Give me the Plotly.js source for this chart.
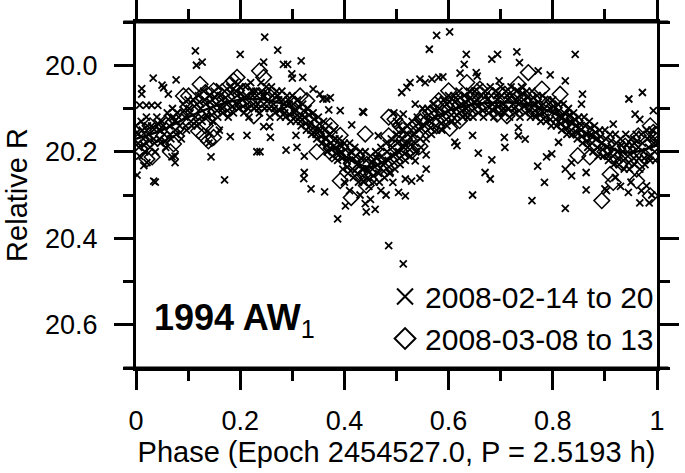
<!DOCTYPE html>
<html><head><meta charset="utf-8">
<script src="https://cdn.plot.ly/plotly-3.0.1.min.js"></script>
<style>html,body{margin:0;padding:0;background:#fff}#chart{width:685px;height:473px}</style>
</head><body><div id="chart"></div>
<script>
// Series 1: 2008-02-14 to 20 (x markers), [phase, relative R]
const crossBand = [
[0.000,20.14],[0.004,20.18],[0.007,20.21],[0.010,20.13],[0.014,20.17],[0.017,20.20],
[0.020,20.12],[0.024,20.16],[0.027,20.19],[0.030,20.14],[0.034,20.17],[0.037,20.20],
[0.040,20.12],[0.044,20.15],[0.047,20.18],[0.050,20.13],[0.054,20.16],[0.057,20.19],
[0.060,20.11],[0.064,20.14],[0.067,20.17],[0.070,20.10],[0.074,20.13],[0.077,20.16],
[0.080,20.11],[0.084,20.14],[0.087,20.17],[0.090,20.09],[0.094,20.12],[0.097,20.15],
[0.100,20.08],[0.104,20.11],[0.107,20.14],[0.110,20.08],[0.114,20.12],[0.117,20.14],
[0.120,20.07],[0.124,20.10],[0.127,20.13],[0.130,20.06],[0.134,20.09],[0.137,20.12],
[0.140,20.07],[0.144,20.10],[0.147,20.13],[0.150,20.06],[0.154,20.09],[0.157,20.12],
[0.160,20.05],[0.164,20.08],[0.167,20.11],[0.170,20.06],[0.174,20.09],[0.177,20.12],
[0.180,20.05],[0.184,20.08],[0.187,20.11],[0.190,20.04],[0.194,20.07],[0.197,20.10],
[0.200,20.05],[0.204,20.08],[0.207,20.11],[0.210,20.05],[0.214,20.09],[0.217,20.12],
[0.220,20.04],[0.224,20.07],[0.227,20.10],[0.230,20.06],[0.234,20.09],[0.237,20.11],
[0.240,20.04],[0.244,20.07],[0.247,20.10],[0.250,20.05],[0.254,20.08],[0.257,20.12],
[0.260,20.05],[0.264,20.09],[0.267,20.11],[0.270,20.06],[0.274,20.08],[0.277,20.12],
[0.280,20.06],[0.284,20.10],[0.287,20.12],[0.290,20.07],[0.294,20.09],[0.297,20.13],
[0.300,20.07],[0.304,20.11],[0.307,20.13],[0.310,20.08],[0.314,20.12],[0.317,20.14],
[0.320,20.09],[0.324,20.12],[0.327,20.15],[0.330,20.10],[0.334,20.14],[0.337,20.16],
[0.340,20.11],[0.344,20.15],[0.347,20.17],[0.350,20.12],[0.354,20.15],[0.357,20.18],
[0.360,20.13],[0.364,20.17],[0.367,20.20],[0.370,20.14],[0.374,20.18],[0.377,20.21],
[0.380,20.15],[0.384,20.19],[0.387,20.22],[0.390,20.17],[0.394,20.20],[0.397,20.24],
[0.400,20.18],[0.404,20.22],[0.407,20.25],[0.410,20.18],[0.414,20.22],[0.417,20.26],
[0.420,20.19],[0.424,20.23],[0.427,20.27],[0.430,20.20],[0.434,20.24],[0.437,20.27],
[0.440,20.20],[0.444,20.24],[0.447,20.28],[0.450,20.21],[0.454,20.24],[0.457,20.27],
[0.460,20.20],[0.464,20.23],[0.467,20.27],[0.470,20.19],[0.474,20.23],[0.477,20.26],
[0.480,20.18],[0.484,20.22],[0.487,20.25],[0.490,20.17],[0.494,20.21],[0.497,20.24],
[0.500,20.16],[0.504,20.20],[0.507,20.23],[0.510,20.15],[0.514,20.19],[0.517,20.22],
[0.520,20.14],[0.524,20.18],[0.527,20.21],[0.530,20.13],[0.534,20.16],[0.537,20.20],
[0.540,20.12],[0.544,20.15],[0.547,20.19],[0.550,20.10],[0.554,20.14],[0.557,20.17],
[0.560,20.10],[0.564,20.13],[0.567,20.16],[0.570,20.09],[0.574,20.12],[0.577,20.15],
[0.580,20.08],[0.584,20.12],[0.587,20.15],[0.590,20.08],[0.594,20.11],[0.597,20.14],
[0.600,20.07],[0.604,20.10],[0.607,20.13],[0.610,20.07],[0.614,20.10],[0.617,20.13],
[0.620,20.06],[0.624,20.09],[0.627,20.12],[0.630,20.07],[0.634,20.10],[0.637,20.12],
[0.640,20.06],[0.644,20.09],[0.647,20.12],[0.650,20.06],[0.654,20.08],[0.657,20.11],
[0.660,20.05],[0.664,20.09],[0.667,20.12],[0.670,20.06],[0.674,20.08],[0.677,20.11],
[0.680,20.05],[0.684,20.09],[0.687,20.12],[0.690,20.06],[0.694,20.08],[0.697,20.11],
[0.700,20.05],[0.704,20.09],[0.707,20.11],[0.710,20.06],[0.714,20.08],[0.717,20.12],
[0.720,20.05],[0.724,20.09],[0.727,20.11],[0.730,20.06],[0.734,20.09],[0.737,20.12],
[0.740,20.05],[0.744,20.08],[0.747,20.11],[0.750,20.06],[0.754,20.09],[0.757,20.12],
[0.760,20.06],[0.764,20.09],[0.767,20.12],[0.770,20.07],[0.774,20.10],[0.777,20.13],
[0.780,20.07],[0.784,20.11],[0.787,20.13],[0.790,20.08],[0.794,20.10],[0.797,20.14],
[0.800,20.08],[0.804,20.11],[0.807,20.14],[0.810,20.09],[0.814,20.12],[0.817,20.15],
[0.820,20.09],[0.824,20.13],[0.827,20.16],[0.830,20.10],[0.834,20.13],[0.837,20.16],
[0.840,20.11],[0.844,20.14],[0.847,20.17],[0.850,20.12],[0.854,20.15],[0.857,20.18],
[0.860,20.12],[0.864,20.16],[0.867,20.19],[0.870,20.13],[0.874,20.16],[0.877,20.20],
[0.880,20.14],[0.884,20.17],[0.887,20.21],[0.890,20.15],[0.894,20.18],[0.897,20.21],
[0.900,20.15],[0.904,20.19],[0.907,20.22],[0.910,20.16],[0.914,20.19],[0.917,20.23],
[0.920,20.16],[0.924,20.20],[0.927,20.23],[0.930,20.17],[0.934,20.20],[0.937,20.24],
[0.940,20.16],[0.944,20.21],[0.947,20.24],[0.950,20.17],[0.954,20.20],[0.957,20.23],
[0.960,20.16],[0.964,20.19],[0.967,20.24],[0.970,20.16],[0.974,20.20],[0.977,20.23],
[0.980,20.15],[0.984,20.19],[0.987,20.22],[0.990,20.15],[0.994,20.18],[0.997,20.22],
[1.000,20.18]
];
const crossBandInner = [
[0.002,20.155],[0.0055,20.19],[0.012,20.15],[0.0155,20.185],[0.022,20.14],[0.0255,20.175],
[0.032,20.145],[0.0355,20.18],[0.042,20.135],[0.0455,20.17],[0.052,20.14],[0.0555,20.175],
[0.062,20.125],[0.0655,20.16],[0.072,20.12],[0.0755,20.15],[0.082,20.12],[0.0855,20.155],
[0.092,20.105],[0.0955,20.14],[0.102,20.10],[0.1055,20.13],[0.112,20.095],[0.1155,20.13],
[0.122,20.085],[0.1255,20.12],[0.132,20.08],[0.1355,20.115],[0.142,20.085],[0.1455,20.115],
[0.152,20.075],[0.1555,20.105],[0.162,20.07],[0.1655,20.10],[0.172,20.075],[0.1755,20.105],
[0.182,20.065],[0.1855,20.095],[0.192,20.06],[0.1955,20.09],[0.202,20.065],[0.2055,20.095],
[0.212,20.07],[0.2155,20.10],[0.222,20.06],[0.2255,20.09],[0.232,20.07],[0.2355,20.10],
[0.242,20.06],[0.2455,20.09],[0.252,20.065],[0.2555,20.10],[0.262,20.07],[0.2655,20.10],
[0.272,20.07],[0.2755,20.105],[0.282,20.08],[0.2855,20.11],[0.292,20.08],[0.2955,20.115],
[0.302,20.09],[0.3055,20.12],[0.312,20.095],[0.3155,20.13],[0.322,20.105],[0.3255,20.135],
[0.332,20.115],[0.3355,20.15],[0.342,20.125],[0.3455,20.16],[0.352,20.135],[0.3555,20.165],
[0.362,20.15],[0.3655,20.185],[0.372,20.16],[0.3755,20.195],[0.382,20.17],[0.3855,20.205],
[0.392,20.185],[0.3955,20.215],[0.402,20.195],[0.4055,20.235],[0.412,20.20],[0.4155,20.24],
[0.422,20.21],[0.4255,20.25],[0.432,20.215],[0.4355,20.255],[0.442,20.22],[0.4455,20.26],
[0.452,20.225],[0.4555,20.255],[0.462,20.215],[0.4655,20.25],[0.472,20.21],[0.4755,20.245],
[0.482,20.20],[0.4855,20.235],[0.492,20.19],[0.4955,20.225],[0.502,20.18],[0.5055,20.215],
[0.512,20.17],[0.5155,20.205],[0.522,20.16],[0.5255,20.195],[0.532,20.145],[0.5355,20.18],
[0.542,20.135],[0.5455,20.17],[0.552,20.12],[0.5555,20.155],[0.562,20.115],[0.5655,20.145],
[0.572,20.105],[0.5755,20.14],[0.582,20.10],[0.5855,20.135],[0.592,20.095],[0.5955,20.125],
[0.602,20.085],[0.6055,20.115],[0.612,20.085],[0.6155,20.115],[0.622,20.075],[0.6255,20.105],
[0.632,20.085],[0.6355,20.11],[0.642,20.075],[0.6455,20.105],[0.652,20.07],[0.6555,20.095],
[0.662,20.07],[0.6655,20.105],[0.672,20.07],[0.6755,20.095],[0.682,20.07],[0.6855,20.105],
[0.692,20.07],[0.6955,20.095],[0.702,20.07],[0.7055,20.10],[0.712,20.07],[0.7155,20.10],
[0.722,20.07],[0.7255,20.10],[0.732,20.075],[0.7355,20.105],[0.742,20.065],[0.7455,20.095],
[0.752,20.075],[0.7555,20.105],[0.762,20.075],[0.7655,20.105],[0.772,20.085],[0.7755,20.115],
[0.782,20.09],[0.7855,20.12],[0.792,20.09],[0.7955,20.125],[0.802,20.095],[0.8055,20.125],
[0.812,20.105],[0.8155,20.135],[0.822,20.11],[0.8255,20.145],[0.832,20.115],[0.8355,20.15],
[0.842,20.125],[0.8455,20.155],[0.852,20.135],[0.8555,20.165],[0.862,20.14],[0.8655,20.175],
[0.872,20.145],[0.8755,20.18],[0.882,20.155],[0.8855,20.19],[0.892,20.165],[0.8955,20.195],
[0.902,20.17],[0.9055,20.205],[0.912,20.175],[0.9155,20.21],[0.922,20.18],[0.9255,20.215],
[0.932,20.185],[0.9355,20.22],[0.942,20.185],[0.9455,20.225],[0.952,20.185],[0.9555,20.215],
[0.962,20.175],[0.9655,20.215],[0.972,20.18],[0.9755,20.215],[0.982,20.17],[0.9855,20.21],
[0.992,20.165],[0.9955,20.20]
];
const crossScatter = [
[0.247,19.935],[0.114,19.967],[0.200,19.975],[0.272,19.965],[0.317,19.990],[0.127,19.993],
[0.283,19.998],[0.291,19.998],[0.245,19.993],[0.116,20.000],[0.033,20.030],[0.077,20.034],
[0.050,20.046],[0.053,20.052],[0.011,20.054],[0.011,20.067],[0.062,20.067],[0.320,20.028],
[0.300,20.030],[0.299,20.020],[0.373,20.075],[0.366,20.078],[0.359,20.078],[0.340,20.055],
[0.353,20.067],[0.392,20.105],[0.437,20.109],[0.414,20.138],[0.007,20.092],[0.020,20.093],
[0.030,20.093],[0.042,20.093],[0.037,20.270],[0.034,20.268],[0.170,20.265],[0.144,20.212],
[0.232,20.200],[0.213,20.162],[0.181,20.165],[0.258,20.167],[0.245,20.142],[0.256,20.142],
[0.288,20.196],[0.307,20.162],[0.309,20.190],[0.323,20.210],[0.323,20.248],[0.322,20.262],
[0.336,20.286],[0.362,20.293],[0.075,20.225],[0.075,20.210],[0.069,20.212],[0.002,20.254],
[0.015,20.232],[0.021,20.225],[0.238,20.200],[0.387,20.355],[0.402,20.325],[0.442,20.339],
[0.459,20.333],[0.485,20.417],[0.465,20.163],[0.435,20.107],[0.370,20.103],
[0.577,19.931],[0.602,19.923],[0.563,19.963],[0.634,19.975],[0.630,19.998],[0.683,19.986],
[0.694,19.975],[0.731,19.969],[0.736,19.994],[0.653,20.017],[0.655,20.025],[0.622,20.018],
[0.697,20.036],[0.545,20.032],[0.555,20.040],[0.568,20.032],[0.581,20.028],[0.589,20.027],
[0.526,20.040],[0.520,20.051],[0.510,20.063],[0.536,20.090],[0.513,20.113],[0.646,20.162],
[0.612,20.178],[0.616,20.186],[0.657,20.203],[0.683,20.219],[0.670,20.248],[0.680,20.263],
[0.707,20.167],[0.708,20.190],[0.734,20.144],[0.734,20.163],[0.646,20.300],[0.557,20.207],
[0.557,20.240],[0.545,20.261],[0.529,20.268],[0.517,20.263],[0.504,20.294],[0.517,20.302],
[0.493,20.271],[0.513,20.459],[0.488,20.247],[0.536,20.221],
[0.843,19.975],[0.972,20.063],[0.946,20.078],[0.772,20.013],[0.795,20.022],[0.824,20.036],
[0.857,20.067],[0.855,20.090],[0.916,20.136],[0.958,20.113],[0.967,20.125],[0.993,20.105],
[0.747,20.171],[0.811,20.178],[0.798,20.205],[0.788,20.212],[0.771,20.233],[0.784,20.271],
[0.760,20.313],[0.824,20.331],[0.864,20.288],[0.864,20.248],[0.824,20.240],[0.836,20.256],
[0.836,20.225],[0.900,20.286],[0.903,20.290],[0.945,20.294],[0.967,20.318],[0.985,20.318],
[0.980,20.279],[0.400,20.270],[0.410,20.290],[0.430,20.300],[0.450,20.310],[0.470,20.290],
[0.480,20.300],[0.440,20.320],[0.920,20.260],[0.950,20.270],[0.970,20.290],[0.990,20.300],
[0.930,20.280],[0.495,20.110],[0.500,20.130],[0.505,20.140],[0.140,20.180],[0.160,20.150]
];
// Series 2: 2008-03-08 to 13 (diamonds)
const diamondPoints = [
[0.008,20.148],[0.021,20.217],[0.027,20.140],[0.031,20.212],[0.053,20.163],[0.066,20.200],
[0.072,20.182],[0.091,20.071],[0.101,20.071],[0.120,20.152],[0.123,20.044],[0.130,20.163],
[0.133,20.140],[0.133,20.063],[0.139,20.175],[0.149,20.167],[0.149,20.059],[0.150,20.148],
[0.174,20.102],[0.181,20.044],[0.187,20.036],[0.194,20.028],[0.206,20.090],[0.226,20.117],
[0.232,20.071],[0.237,20.013],[0.245,20.028],[0.315,20.071],[0.328,20.082],[0.347,20.200],
[0.373,20.140],[0.376,20.205],[0.392,20.162],[0.392,20.267],[0.413,20.306],[0.424,20.209],
[0.440,20.159],[0.440,20.255],[0.442,20.278],[0.443,20.229],[0.465,20.225],[0.485,20.120],
[0.485,20.163],[0.497,20.125],[0.507,20.140],[0.523,20.171],[0.529,20.199],[0.545,20.187],
[0.577,20.140],[0.581,20.082],[0.600,20.059],[0.602,20.146],[0.621,20.128],[0.635,20.040],
[0.641,20.109],[0.660,20.055],[0.693,20.113],[0.708,20.067],[0.712,20.117],[0.728,20.071],
[0.734,20.044],[0.753,20.017],[0.763,20.102],[0.779,20.055],[0.814,20.067],[0.817,20.102],
[0.833,20.121],[0.848,20.209],[0.871,20.212],[0.894,20.313],[0.910,20.252],[0.916,20.271],
[0.932,20.225],[0.939,20.187],[0.961,20.240],[0.961,20.267],[0.964,20.163],[0.987,20.302],
[0.987,20.140],[0.993,20.155],
[0.010,20.170],[0.040,20.160],[0.060,20.130],[0.085,20.120],[0.110,20.100],[0.160,20.080],
[0.210,20.060],[0.255,20.070],[0.270,20.090],[0.290,20.100],[0.305,20.090],[0.330,20.120],
[0.355,20.160],[0.370,20.180],[0.400,20.200],[0.415,20.230],[0.430,20.250],[0.455,20.240],
[0.475,20.210],[0.500,20.190],[0.515,20.170],[0.535,20.140],[0.550,20.120],[0.565,20.110],
[0.590,20.100],[0.610,20.090],[0.625,20.080],[0.650,20.070],[0.670,20.090],[0.685,20.070],
[0.700,20.100],[0.720,20.090],[0.745,20.080],[0.770,20.100],[0.790,20.090],[0.805,20.120],
[0.825,20.130],[0.840,20.150],[0.860,20.150],[0.880,20.180],[0.900,20.200],[0.920,20.210],
[0.950,20.190],[0.975,20.210],[0.995,20.170]
];
// Fitted light curve
const fitCurve = [
[0,20.17],[0.05,20.15],[0.1,20.12],[0.15,20.095],[0.2,20.08],[0.25,20.08],[0.3,20.1],
[0.35,20.15],[0.4,20.21],[0.45,20.235],[0.5,20.2],[0.55,20.14],[0.6,20.105],[0.65,20.09],
[0.7,20.086],[0.75,20.09],[0.8,20.11],[0.85,20.145],[0.9,20.185],[0.93,20.2],[0.96,20.2],[1.0,20.185]
];
const seriesNames = ['2008-02-14 to 20', '2008-03-08 to 13'];
const xTickVals = [0, 0.2, 0.4, 0.6, 0.8, 1];
const xTickText = ['0', '0.2', '0.4', '0.6', '0.8', '1'];
const yTickVals = [20.0, 20.2, 20.4, 20.6];
const yTickText = ['20.0', '20.2', '20.4', '20.6'];

const crosses = crossBand.concat(crossBandInner, crossScatter);
const FONT = 'Liberation Sans, Arial, Helvetica, sans-serif';
const traces = [
  {x: crosses.map(p=>p[0]), y: crosses.map(p=>p[1]), mode:'markers', type:'scatter', showlegend:false,
   marker:{symbol:'x-thin-open', size:7, color:'#000', line:{width:1.8, color:'#000'}}},
  {x: diamondPoints.map(p=>p[0]), y: diamondPoints.map(p=>p[1]), mode:'markers', type:'scatter', showlegend:false,
   marker:{symbol:'diamond-open', size:12, color:'#000', line:{width:1.5, color:'#000'}}},
  {x: fitCurve.map(p=>p[0]), y: fitCurve.map(p=>p[1]), mode:'lines', type:'scatter', showlegend:false,
   line:{color:'#000', width:2.5, shape:'spline', smoothing:1}},
  {x:[null], y:[null], mode:'markers', type:'scatter', name: seriesNames[0],
   marker:{symbol:'x-thin-open', size:16, color:'#000', line:{width:2, color:'#000'}}},
  {x:[null], y:[null], mode:'markers', type:'scatter', name: seriesNames[1],
   marker:{symbol:'diamond-open', size:16, color:'#000', line:{width:2, color:'#000'}}}
];
const axCommon = {showline:true, linewidth:3, linecolor:'#000', mirror:'ticks', ticks:'outside',
  ticklen:19, tickwidth:3, tickcolor:'#000', showgrid:false, zeroline:false,
  tickfont:{family:FONT, size:27, color:'#000'},
  minor:{ticks:'outside', ticklen:10, tickwidth:3, tickcolor:'#000', showgrid:false}};
const layout = {
  width:685, height:473, margin:{l:136, r:28, t:22, b:105},
  paper_bgcolor:'#fff', plot_bgcolor:'#fff',
  font:{family:FONT, color:'#000'},
  xaxis: Object.assign({}, axCommon, {range:[0,1], tickvals:xTickVals, ticktext:xTickText,
    ticklabelstandoff:8,
    minor:Object.assign({}, axCommon.minor, {dtick:0.1, tick0:0}),
    title:{text:'Phase (Epoch 2454527.0, P = 2.5193 h)', font:{family:FONT, size:29, color:'#000'}, standoff:3}}),
  yaxis: Object.assign({}, axCommon, {range:[20.7,19.9], autorange:false, tickvals:yTickVals, ticktext:yTickText,
    ticklabelstandoff:11,
    minor:Object.assign({}, axCommon.minor, {dtick:0.1, tick0:19.9}),
    title:{text:'Relative R', font:{family:FONT, size:29, color:'#000'}, standoff:9}}),
  showlegend:true,
  legend:{x:0.478, y:0.146, xanchor:'left', yanchor:'middle', bgcolor:'rgba(0,0,0,0)',
    font:{family:FONT, size:30, color:'#000'}, tracegroupgap:0, itemwidth:30},
  shapes:[
    {type:'line', xref:'paper', yref:'paper', x0:-0.024, x1:1.022, y0:1, y1:1, line:{color:'#000', width:3}},
    {type:'line', xref:'paper', yref:'paper', x0:-0.024, x1:1.022, y0:0, y1:0, line:{color:'#000', width:3}}
  ],
  annotations:[
    {xref:'paper', yref:'paper', x:0.03, y:0.14, xanchor:'left', yanchor:'middle', showarrow:false,
     text:'<b>1994 AW</b><sub>1</sub>', font:{family:FONT, size:36, color:'#000'}}
  ]
};
Plotly.newPlot('chart', traces, layout, {displayModeBar:false, staticPlot:true});
</script></body></html>
